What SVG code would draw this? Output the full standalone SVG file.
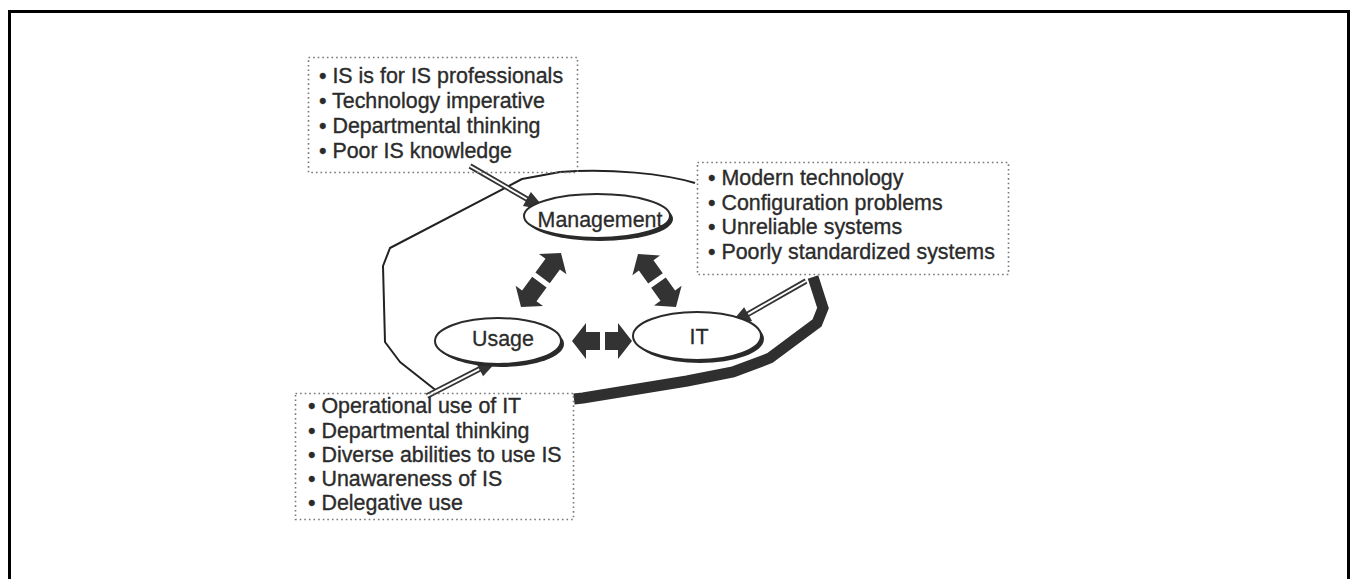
<svg xmlns="http://www.w3.org/2000/svg" width="1351" height="579" viewBox="0 0 1351 579">
<style>
.frame{fill:#fff;stroke:#000;stroke-width:3}
.box{fill:none;stroke:#777;stroke-width:1.6;stroke-dasharray:1.6 3}
.txt{font-family:"Liberation Sans",Arial,sans-serif;font-size:21.4px;fill:#2b2b2b;stroke:#2b2b2b;stroke-width:0.35}
.lbl{font-family:"Liberation Sans",Arial,sans-serif;font-size:21.4px;fill:#2b2b2b;stroke:#2b2b2b;stroke-width:0.3;text-anchor:middle}
.shadow{fill:#2a2a2a}
.ell{fill:#fff;stroke:#2a2a2a;stroke-width:2}
.blk{fill:#333}
.dl-o{stroke:#333;stroke-width:5.5;fill:none}
.dl-i{stroke:#fff;stroke-width:2;fill:none}
.thin{fill:none;stroke:#222;stroke-width:2;stroke-linejoin:round}
.thick{fill:none;stroke:#2f2f2f;stroke-width:11;stroke-linejoin:miter}
</style>
<rect x="9.5" y="11.5" width="1339" height="620" class="frame"/>

<g id="connectors">
  <path class="thin" d="M695,183 C665,174 610,168 560,172 L522,179 L390,248 L383,266 L385,342 L400,362 L438,392"/>
  <path class="thick" d="M813,277 L823,308 L817,323 L770,358 L733,372 L687,381 L583,398 L574,399"/>
  <!-- Management <-> Usage -->
  <polygon class="blk" points="561,253 566.4,274.3 559.9,269.6 549.8,283.3 535.4,272.5 545.5,258.8 539,254.1"/>
  <polygon class="blk" points="521,307 543,305.9 536.5,301.2 546.6,287.5 532.2,276.7 522.1,290.4 515.6,285.7"/>
  <!-- Management <-> IT -->
  <polygon class="blk" points="638,254 660,255.5 653.5,260.2 662.8,273.2 648.2,283.6 638.9,270.6 632.4,275.3"/>
  <polygon class="blk" points="676,307 681.6,285.7 675.1,290.4 665.8,277.4 651.2,287.8 660.5,300.8 654,305.5"/>
  <!-- Usage <-> IT -->
  <polygon class="blk" points="572,341 586,323 586,332 600,332 600,350 586,350 586,359"/>
  <polygon class="blk" points="632,341 618,323 618,332 605,332 605,350 618,350 618,359"/>
  <!-- double-line arrows -->
  <line class="dl-o" x1="470" y1="166" x2="528" y2="199.6"/>
  <line class="dl-i" x1="470" y1="166" x2="526.9" y2="199"/>
  <polygon class="blk" points="546,210 522.9,205.9 530.9,192.1"/>
  <line class="dl-o" x1="806" y1="281" x2="747" y2="314.7"/>
  <line class="dl-i" x1="806" y1="281" x2="748.1" y2="314.1"/>
  <polygon class="blk" points="729,325 744.1,307.2 752.1,321"/>
  <line class="dl-o" x1="427" y1="396" x2="480.5" y2="368.5"/>
  <line class="dl-i" x1="427" y1="396" x2="479.4" y2="369.1"/>
  <polygon class="blk" points="499,359 483.1,376.2 475.7,362"/>
</g>

<g id="node-management">
  <ellipse class="shadow" cx="600" cy="219" rx="73" ry="22"/>
  <ellipse class="ell" cx="597" cy="216" rx="73" ry="22"/>
  <text class="lbl" x="600" y="227">Management</text>
</g>
<g id="node-usage">
  <ellipse class="shadow" cx="501" cy="344" rx="63" ry="23"/>
  <ellipse class="ell" cx="498" cy="341" rx="63" ry="23"/>
  <text class="lbl" x="503" y="346">Usage</text>
</g>
<g id="node-it">
  <ellipse class="shadow" cx="700" cy="339" rx="64" ry="24"/>
  <ellipse class="ell" cx="697" cy="336" rx="64" ry="24"/>
  <text class="lbl" x="699" y="344">IT</text>
</g>

<g id="box-management">
  <rect class="box" x="308.5" y="57.5" width="269" height="115"/>
  <text class="txt" x="319" y="83">• IS is for IS professionals</text>
  <text class="txt" x="319" y="108">• Technology imperative</text>
  <text class="txt" x="319" y="133">• Departmental thinking</text>
  <text class="txt" x="319" y="158">• Poor IS knowledge</text>
</g>
<g id="box-it">
  <rect class="box" x="697.5" y="162.5" width="311" height="112"/>
  <text class="txt" x="708" y="185">• Modern technology</text>
  <text class="txt" x="708" y="210">• Configuration problems</text>
  <text class="txt" x="708" y="234">• Unreliable systems</text>
  <text class="txt" x="708" y="259">• Poorly standardized systems</text>
</g>
<g id="box-usage">
  <rect class="box" x="295.5" y="393.5" width="278" height="126"/>
  <text class="txt" x="308" y="413">• Operational use of IT</text>
  <text class="txt" x="308" y="438">• Departmental thinking</text>
  <text class="txt" x="308" y="462">• Diverse abilities to use IS</text>
  <text class="txt" x="308" y="486">• Unawareness of IS</text>
  <text class="txt" x="308" y="510">• Delegative use</text>
</g>
</svg>
